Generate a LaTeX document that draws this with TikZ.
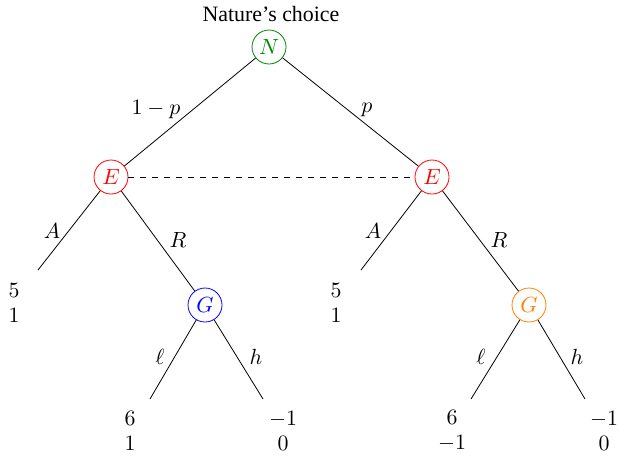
\documentclass[tikz,border=0pt]{standalone}
\usepackage{fontspec}
\newfontfamily\timesfont{Liberation Serif}
\begin{document}
\begin{tikzpicture}[x=0.5pt,y=-0.5pt,
  every node/.style={font=\fontsize{10.95pt}{12.5pt}\selectfont},
  player/.style={circle,draw,minimum size=17pt,inner sep=0pt},
  edge/.style={draw=black,line width=0.4pt},
  lab/.style={inner sep=1pt},
  pay/.style={align=center,inner sep=0pt}]
\useasboundingbox (0,0) rectangle (619,457);
\definecolor{ngreen}{RGB}{0,128,0}
\definecolor{gorange}{RGB}{255,128,0}
\node[player,draw=ngreen,text=ngreen] (N) at (269,47) {$N$};
\node[font=\fontsize{10.95pt}{12.5pt}\timesfont] (title) at (271,14) {Nature’s choice};
\node[player,draw=red,text=red] (E1) at (111,177) {$E$};
\node[player,draw=red,text=red] (E2) at (432,177) {$E$};
\node[player,draw=blue,text=blue] (G1) at (205,305) {$G$};
\node[player,draw=gorange,text=gorange] (G2) at (529,305) {$G$};
\coordinate (a1) at (38,270);
\coordinate (a2) at (361,270);
\coordinate (l1) at (150,399);
\coordinate (h1) at (263,399);
\coordinate (l2) at (471,399);
\coordinate (h2) at (585,399);
\draw[edge] (N) -- (E1);
\draw[edge] (N) -- (E2);
\draw[edge,dashed] (E1) -- (E2);
\draw[edge] (E1) -- (a1);
\draw[edge] (E1) -- (G1);
\draw[edge] (E2) -- (a2);
\draw[edge] (E2) -- (G2);
\draw[edge] (G1) -- (l1);
\draw[edge] (G1) -- (h1);
\draw[edge] (G2) -- (l2);
\draw[edge] (G2) -- (h2);
\node[lab] (p1) at (156,110) {$1-p$};
\node[lab] (p2) at (367,110) {$p$};
\node[lab] (A1) at (52,231) {$A$};
\node[lab] (R1) at (178,240) {$R$};
\node[lab] (A2) at (373,231) {$A$};
\node[lab] (R2) at (499,240) {$R$};
\node[lab] (L1) at (160,357) {$\ell$};
\node[lab] (H1) at (256,357) {$h$};
\node[lab] (L2) at (481,357) {$\ell$};
\node[lab] (H2) at (577,357) {$h$};
\node[pay] (u1) at (14,303) {$5$\\$1$};
\node[pay] (u2) at (336,303) {$5$\\$1$};
\node[pay] (u3) at (130,431) {$6$\\$1$};
\node[pay] (u4) at (283,431) {$-1$\\$0$};
\node[pay] (u5) at (452,431) {$6$\\$-1$};
\node[pay] (u6) at (604,431) {$-1$\\$0$};
\end{tikzpicture}
\end{document}
